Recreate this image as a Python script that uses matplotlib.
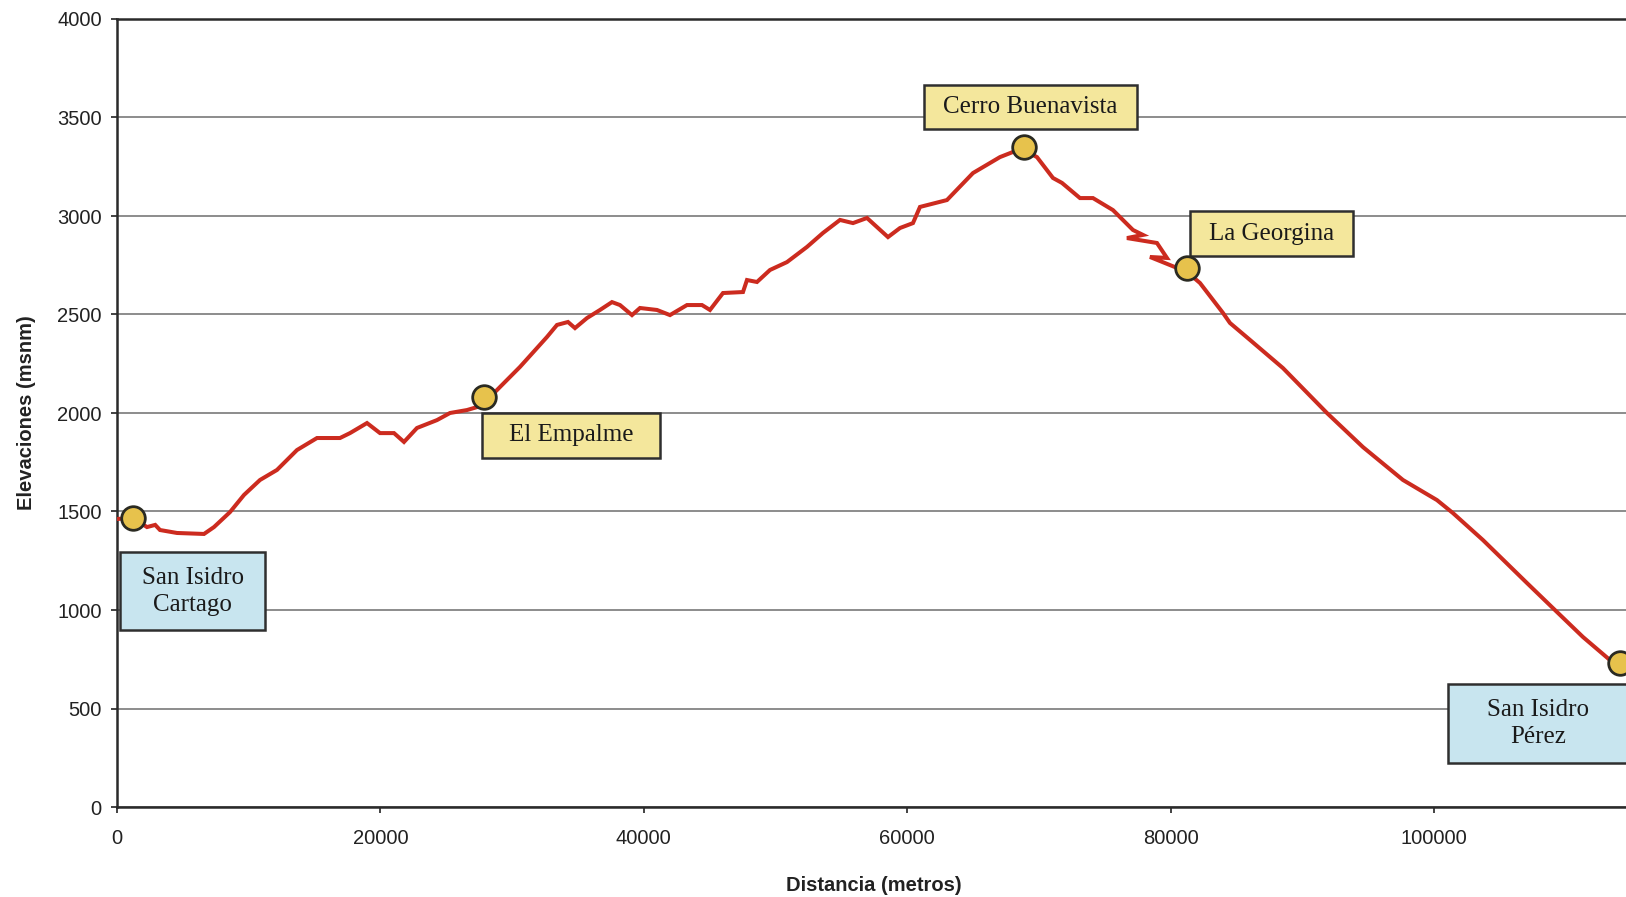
import matplotlib
matplotlib.use("Agg")
import matplotlib.pyplot as plt
from matplotlib.patches import Rectangle

# Elevation profile: distance along the route (m) and elevation (m.s.n.m.)
distance = [
    0, 1215, 2278, 2900, 3265, 4556, 6606, 7365, 8580, 9643, 10858, 12149,
    13667, 15186, 16933, 17692, 18983, 19970, 21033, 21792, 22779, 24298,
    25285, 26576, 27335, 27867, 29082, 30600, 32650, 33409, 34245, 34776,
    35687, 36674, 37585, 38193, 39104, 39711, 41002, 41989, 43280, 44419,
    45027, 46014, 47532, 47836, 48595, 49583, 50873, 52392, 53607, 54898,
    55885, 56948, 58543, 59454, 60440, 60972, 63022, 64996, 67046, 68033,
    68869, 69856, 71071, 71754, 73121, 74108, 75626, 77145, 77904, 76689,
    78967, 79727, 78436, 79954, 81245, 82232, 83979, 84510, 86029, 88535,
    91875, 94609, 97646, 100228, 101443, 103721, 107062, 109339, 111313,
    113364, 114123,
]
elevation = [
    1462, 1467, 1421, 1432, 1406, 1391, 1386, 1421, 1497, 1584, 1660, 1711,
    1812, 1873, 1873, 1898, 1949, 1898, 1898, 1853, 1924, 1964,
    2000, 2015, 2030, 2050, 2132, 2234, 2386, 2447, 2462, 2431,
    2482, 2523, 2563, 2548, 2497, 2533, 2523, 2497, 2548, 2548,
    2523, 2609, 2614, 2675, 2665, 2726, 2766, 2843, 2914, 2980,
    2964, 2990, 2893, 2939, 2964, 3046, 3081, 3218, 3299, 3325,
    3335, 3299, 3193, 3168, 3091, 3091, 3030, 2929, 2904, 2888,
    2863, 2787, 2792, 2751, 2716, 2660, 2508, 2457, 2371, 2228,
    2000, 1827, 1660, 1558, 1492, 1355, 1137, 990, 863,
    746, 731,
]

# Named places along the route
stop_names = ["San Isidro\nCartago", "El Empalme", "Cerro Buenavista",
              "La Georgina", "San Isidro\nPérez"]
stop_distance = [1215, 27867, 68869, 81245, 114123]
stop_elevation = [1467, 2081, 3350, 2736, 731]

x_ticks = [0, 20000, 40000, 60000, 80000, 100000]
y_ticks = [0, 500, 1000, 1500, 2000, 2500, 3000, 3500, 4000]

# Label boxes (x0, x1, y0, y1 in data units) and fill colours
box_extent = [
    (228, 11238, 898, 1294),
    (27715, 41230, 1772, 2000),
    (61276, 77449, 3442, 3665),
    (81473, 93850, 2797, 3025),
    (101063, 114730, 223, 624),
]
yellow = "#f4e79c"
blue = "#c8e5ef"
box_color = [blue, yellow, yellow, yellow, blue]

W, H = 1626, 897
fig = plt.figure(figsize=(W / 100, H / 100), dpi=100, facecolor="white")
ax = fig.add_axes([117 / W, 90 / H, (1631.5 - 117) / W, 788 / H])
ax.set_facecolor("white")

ax.set_xlim(0, 115000)
ax.set_ylim(0, 4000)
ax.set_xticks(x_ticks)
ax.set_yticks(y_ticks)
ax.set_xticklabels([str(v) for v in x_ticks])
ax.set_yticklabels([str(v) for v in y_ticks])

sans = "Liberation Sans"
serif = "Liberation Serif"
ax.tick_params(axis="both", labelsize=14.5, colors="#222222", width=1.2,
               length=4, direction="out")
ax.tick_params(axis="x", pad=12)
ax.tick_params(axis="y", pad=7)
for lab in ax.get_xticklabels() + ax.get_yticklabels():
    lab.set_fontfamily(sans)

ax.yaxis.grid(True, color="#6e6e6e", linewidth=1.1)
ax.set_axisbelow(True)

for side in ("left", "top", "bottom"):
    ax.spines[side].set_color("#2a2a2a")
    ax.spines[side].set_linewidth(1.8)
ax.spines["right"].set_visible(False)

ax.set_xlabel("Distancia (metros)", fontfamily=sans, fontweight="bold",
              fontsize=14.5, color="#222222", labelpad=20)
ax.set_ylabel("Elevaciones (msnm)", fontfamily=sans, fontweight="bold",
              fontsize=14.5, color="#222222", labelpad=15)

ax.plot(distance, elevation, color="#cc2b1f", linewidth=2.9,
        solid_joinstyle="miter", zorder=3)

for (x0, x1, y0, y1), fc, name in zip(box_extent, box_color, stop_names):
    ax.add_patch(Rectangle((x0, y0), x1 - x0, y1 - y0, facecolor=fc,
                           edgecolor="#2f2f2f", linewidth=1.8, zorder=4,
                           clip_on=False))
    ax.text((x0 + x1) / 2, (y0 + y1) / 2, name, ha="center", va="center",
            fontfamily=serif, fontsize=18, color="#1a1a1a",
            linespacing=1.3, zorder=5, clip_on=False)

ax.plot(stop_distance, stop_elevation, linestyle="none", marker="o",
        markersize=17, markerfacecolor="#e7c24c", markeredgecolor="#2a2a22",
        markeredgewidth=2.0, zorder=6, clip_on=False)

fig.savefig("out.png", dpi=100, facecolor="white")
